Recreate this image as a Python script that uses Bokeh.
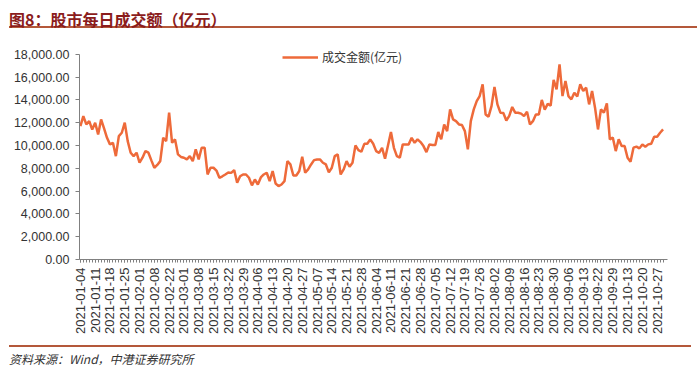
import pandas as pd
from bokeh.plotting import figure
from bokeh.models import Div, FixedTicker, NumeralTickFormatter, Legend, LegendItem, Range1d
from bokeh.layouts import column
from bokeh.embed import file_html
from bokeh.resources import INLINE

# ---- data ----
holidays = ["2021-02-11", "2021-02-12", "2021-02-15", "2021-02-16", "2021-02-17",
            "2021-04-05", "2021-05-03", "2021-05-04", "2021-05-05", "2021-06-14",
            "2021-09-20", "2021-09-21", "2021-10-01", "2021-10-04", "2021-10-05",
            "2021-10-06", "2021-10-07"]
dates = [d.strftime("%Y-%m-%d") for d in pd.bdate_range("2021-01-04", "2021-10-29")
         if d.strftime("%Y-%m-%d") not in holidays]

turnover = [
    11700, 12580, 11850, 12140, 11400, 12000, 10975, 12290, 11500, 10680,
    10100, 10240, 9070, 10830, 11120, 12000, 10390, 9370, 9070, 9370,
    8490, 8930, 9510, 9370, 8700, 8050, 8300, 8630, 10680, 10390,
    12880, 10240, 10540, 9220, 9000, 8930, 8780, 9070, 8630, 9660,
    8780, 9810, 9810, 7460, 8050, 8050, 7800, 7170, 7300, 7460,
    7640, 7600, 7840, 6730, 7300, 7460, 7460, 7170, 6500, 7020,
    6580, 7200, 7460, 7610, 6870, 7760, 6670, 6440, 6580, 6870,
    8630, 8340, 7370, 7370, 7760, 9010, 7610, 7900, 8340, 8720,
    8780, 8780, 8490, 8340, 7640, 8050, 9070, 9220, 7460, 7900,
    8630, 8140, 8490, 10010, 9600, 9450, 10150, 10150, 10540, 10150,
    9510, 9360, 9800, 8840, 10000, 11180, 9800, 9070, 8930, 10100,
    10100, 10100, 10680, 10240, 10540, 10300, 9950, 9420, 10100, 10050,
    10050, 11180, 10540, 11850, 11260, 13170, 12290, 12140, 11850, 11800,
    11260, 9660, 12140, 13170, 13900, 14340, 15370, 12730, 12530, 13460,
    15130, 13610, 12880, 12850, 12200, 12600, 13380, 12880, 12880, 12800,
    12580, 12970, 11850, 12140, 12730, 12730, 14000, 13150, 13650, 13500,
    15750, 14930, 17120, 14340, 15660, 14340, 14050, 14640, 14300, 15370,
    14780, 15080, 13610, 14780, 13320, 11410, 13170, 12880, 13700, 10540,
    10700, 9510, 10540, 9950, 9950, 8930, 8580, 9810, 9900, 9750,
    10100, 9900, 10100, 10160, 10770, 10770, 11120, 11410,
]
n = min(len(dates), len(turnover))
dates = dates[:n]
turnover = turnover[:n]

tick_step = 5
tick_labels = dates[::tick_step]
y_ticks = [0, 2000, 4000, 6000, 8000, 10000, 12000, 14000, 16000, 18000]

series_name = "成交金额(亿元)"
title_text = "图8：股市每日成交额（亿元）"
source_text = "资料来源：Wind，中港证券研究所"

# ---- styles ----
LINE_COLOR = "#EE6A3A"
RULE_COLOR = "#B4583A"
TITLE_COLOR = "#8B1C1C"
TEXT_COLOR = "#333333"
AXIS_COLOR = "#808080"
CJK = "Noto Sans CJK SC"
LATIN = "Liberation Sans"

xs = list(range(n))

p = figure(width=684, height=299, output_backend="svg", toolbar_location=None,
           min_border_left=79, min_border_right=17, min_border_top=8, min_border_bottom=79,
           x_range=Range1d(-0.3, 198.5), y_range=Range1d(0, 18600))
p.outline_line_color = None
p.xgrid.visible = False
p.ygrid.visible = False

r = p.line(xs, turnover, line_color=LINE_COLOR, line_width=2.5)

# x axis
tick_pos = xs[::tick_step]
p.xaxis.ticker = FixedTicker(ticks=tick_pos, minor_ticks=xs)
p.xaxis.major_label_overrides = {i: lab for i, lab in zip(tick_pos, tick_labels)}
p.xaxis.major_label_orientation = 3.14159265 / 2
p.xaxis.major_label_text_font = LATIN
p.xaxis.major_label_text_font_size = "13px"
p.xaxis.major_label_text_color = TEXT_COLOR
p.xaxis.major_label_standoff = 5
p.xaxis.major_tick_out = 3
p.xaxis.major_tick_in = 0
p.xaxis.minor_tick_out = 3
p.xaxis.minor_tick_in = 0
p.xaxis.axis_line_color = AXIS_COLOR
p.xaxis.major_tick_line_color = AXIS_COLOR
p.xaxis.minor_tick_line_color = AXIS_COLOR

# y axis
p.yaxis.ticker = FixedTicker(ticks=y_ticks, minor_ticks=[])
p.yaxis.bounds = (y_ticks[0], y_ticks[-1])
p.yaxis.formatter = NumeralTickFormatter(format="0,0.00")
p.yaxis.major_label_text_font = LATIN
p.yaxis.major_label_text_font_size = "12.5px"
p.yaxis.major_label_text_color = TEXT_COLOR
p.yaxis.major_label_standoff = 6
p.yaxis.major_tick_out = 4
p.yaxis.major_tick_in = 0
p.yaxis.axis_line_color = AXIS_COLOR
p.yaxis.major_tick_line_color = AXIS_COLOR

legend = Legend(items=[LegendItem(label=series_name, renderers=[r])],
                location=(203, 194), orientation="horizontal",
                border_line_color=None, background_fill_alpha=0,
                padding=0, margin=0, spacing=0,
                glyph_width=36, glyph_height=14, label_standoff=4,
                label_text_font=CJK, label_text_font_size="12px",
                label_text_color=TEXT_COLOR)
p.add_layout(legend, "center")

title_div = Div(width=684, height=29, text=(
    f'<div style="width:688px;height:23px;padding-top:4px;border-bottom:2px solid {RULE_COLOR};'
    f'margin-left:4px;font-family:\'{CJK}\';font-weight:bold;font-size:16px;'
    f'line-height:20px;color:{TITLE_COLOR};white-space:nowrap">{title_text}</div>'))

foot_div = Div(width=684, height=23, text=(
    f'<div style="width:682px;height:21px;margin-top:2px;border-top:2px solid {RULE_COLOR};'
    f'margin-left:4px;padding-top:5px;font-family:\'{CJK}\';font-style:italic;font-size:12px;'
    f'line-height:13px;color:{TEXT_COLOR};white-space:nowrap;box-sizing:border-box">{source_text}</div>'))

layout = column(title_div, p, foot_div, spacing=0)

open("out.html", "w").write(file_html(layout, INLINE))
